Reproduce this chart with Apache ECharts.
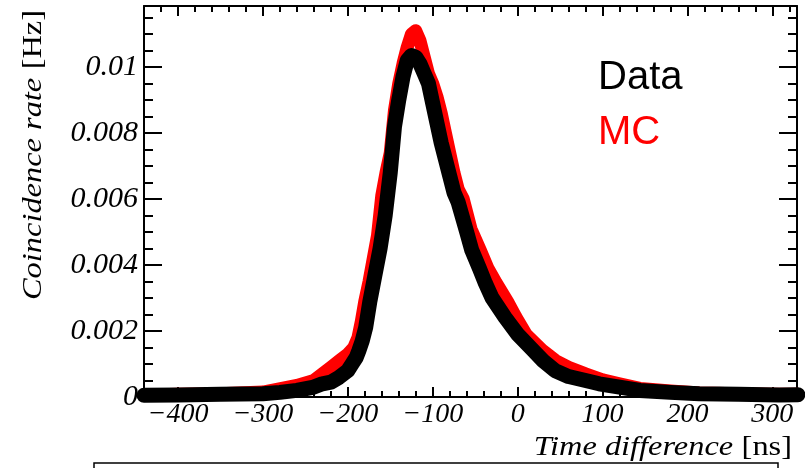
<!DOCTYPE html>
<html>
<head>
<meta charset="utf-8">
<script src="https://cdn.jsdelivr.net/npm/echarts@6/dist/echarts.min.js"></script>
<style>
  html, body { margin: 0; padding: 0; background: #fff; }
  #chart { width: 806px; height: 468px; }
</style>
</head>
<body>
<div id="chart"></div>
<script>
// time difference [ns] and coincidence rate [Hz]
const timeMC = [-440, -400, -350, -300, -260, -240, -230, -220, -210, -200, -193, -188, -184, -180, -175, -170, -165, -160, -155, -150, -145, -140, -135, -130, -125, -120, -115, -110, -105, -100, -95, -90, -85, -80, -75, -70, -64, -55, -44, -35, -25, -12, -2, 10, 29, 45, 60, 80, 100, 120, 144, 180, 214, 260, 300, 330];
const rateMC = [0.00005, 0.00008, 0.0001, 0.00015, 0.00035, 0.0005, 0.0007, 0.0009, 0.0011, 0.0013, 0.0015, 0.0018, 0.0023, 0.0029, 0.0035, 0.0042, 0.0049, 0.0061, 0.0068, 0.0074, 0.0087, 0.0095, 0.0101, 0.0106, 0.011, 0.0111, 0.0108, 0.0103, 0.0098, 0.0095, 0.0091, 0.0086, 0.008, 0.0074, 0.0068, 0.0063, 0.006, 0.0051, 0.00445, 0.0039, 0.00345, 0.0029, 0.00242, 0.0019, 0.00142, 0.0011, 0.0009, 0.0007, 0.00052, 0.0004, 0.00026, 0.00018, 0.00012, 0.0001, 0.00008, 0.00008];

const timeData = [-440, -400, -350, -300, -280, -260, -240, -230, -220, -210, -200, -195, -190, -187, -183, -179, -174, -168, -162, -156, -150, -145, -140, -135, -130, -125, -120, -115, -110, -105, -100, -95, -90, -85, -80, -75, -70, -60, -54, -45, -38, -30, -15, 0, 18, 30, 44, 60, 80, 96, 120, 144, 180, 214, 260, 308, 330];
const rateData = [0.00005, 0.00006, 0.00008, 0.0001, 0.00014, 0.0002, 0.0003, 0.0004, 0.00045, 0.0006, 0.0008, 0.001, 0.0012, 0.0014, 0.0017, 0.0021, 0.0029, 0.0037, 0.0045, 0.0055, 0.0068, 0.0082, 0.009, 0.0097, 0.0102, 0.01035, 0.0103, 0.0101, 0.0098, 0.0095, 0.0089, 0.0083, 0.0077, 0.0072, 0.0067, 0.0062, 0.0059, 0.005, 0.00445, 0.0039, 0.00345, 0.003, 0.00242, 0.0019, 0.00142, 0.0011, 0.0008, 0.00062, 0.0005, 0.0004, 0.0003, 0.0002, 0.00014, 0.0001, 0.00008, 0.00006, 0.00007];

const xMin = -440, xMax = 329;
const yMin = 0, yMax = 0.01185;

const zip = (a, b) => a.map((t, i) => [t, b[i]]);

const serif = 'Liberation Serif';

const xCommon = {
  type: 'value', min: xMin, max: xMax, splitNumber: 8,
  axisLine: { onZero: false, lineStyle: { color: '#000', width: 2 } },
  axisTick: { inside: true, length: 10, lineStyle: { color: '#000', width: 2 } },
  minorTick: { show: true, splitNumber: 5, length: 6, lineStyle: { color: '#000', width: 2 } },
  splitLine: { show: false }
};
const yCommon = {
  type: 'value', min: yMin, max: yMax, interval: 0.002,
  axisLine: { onZero: false, lineStyle: { color: '#000', width: 2 } },
  axisTick: { inside: true, length: 18, lineStyle: { color: '#000', width: 2 } },
  minorTick: { show: true, splitNumber: 4, length: 9, lineStyle: { color: '#000', width: 2 } },
  splitLine: { show: false }
};

// axis titles are drawn a bit wider than the font, like the original
const titleRich = {
  i: { fontFamily: serif, fontStyle: 'italic', fontSize: 27, color: '#000' },
  n: { fontFamily: serif, fontSize: 27, color: '#000', padding: [0, 0, 0, 7] }
};

const chart = echarts.init(document.getElementById('chart'));
chart.setOption({
  animation: false,
  backgroundColor: '#fff',
  grid: { left: 144, right: 9, top: 6, bottom: 71 },
  xAxis: [
    Object.assign({}, xCommon, {
      position: 'bottom',
      axisLabel: {
        fontFamily: serif, fontStyle: 'italic', fontSize: 28, color: '#000',
        margin: 4, showMinLabel: false, showMaxLabel: false,
        formatter: v => (v % 100 === 0 ? String(v).replace('-', '\u2212') : '')
      }
    }),
    Object.assign({}, xCommon, { position: 'top', axisLabel: { show: false } })
  ],
  yAxis: [
    Object.assign({}, yCommon, {
      position: 'left',
      axisLabel: {
        fontFamily: serif, fontStyle: 'italic', fontSize: 30, color: '#000',
        margin: 6, showMaxLabel: false,
        formatter: v => (v === 0 ? '0' : String(parseFloat(v.toFixed(4))))
      }
    }),
    Object.assign({}, yCommon, { position: 'right', axisLabel: { show: false } })
  ],
  series: [
    {
      name: 'MC', type: 'line', data: zip(timeMC, rateMC), clip: false,
      showSymbol: false,
      lineStyle: { color: '#ff0000', width: 13, cap: 'round', join: 'round' }
    },
    {
      name: 'Data', type: 'line', data: zip(timeData, rateData), clip: false,
      showSymbol: false,
      lineStyle: { color: '#000', width: 15, cap: 'round', join: 'round' }
    }
  ],
  graphic: [
    {
      type: 'text', x: 598, y: 78,
      style: { text: 'Data', fill: '#000', font: '40px "Liberation Sans"', verticalAlign: 'middle' }
    },
    {
      type: 'text', x: 598, y: 133,
      style: { text: 'MC', fill: '#ff0000', font: '40px "Liberation Sans"', verticalAlign: 'middle' }
    },
    {
      type: 'text', x: 792, y: 448, scaleX: 1.2,
      style: { text: '{i|Time difference}{n|[ns]}', align: 'right', verticalAlign: 'middle', rich: titleRich }
    },
    {
      type: 'text', x: 34, y: 10, rotation: Math.PI / 2, scaleX: 1.2,
      style: { text: '{i|Coincidence rate}{n|[Hz]}', align: 'right', verticalAlign: 'middle', rich: titleRich }
    },
    {
      type: 'rect', shape: { x: 94, y: 463, width: 684, height: 20 },
      style: { fill: 'none', stroke: '#000', lineWidth: 1.5 }
    }
  ]
});
</script>
</body>
</html>
